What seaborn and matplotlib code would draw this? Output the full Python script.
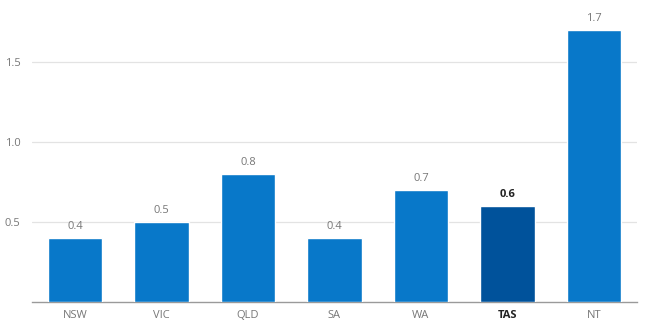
import matplotlib
matplotlib.use("Agg")
import matplotlib.pyplot as plt
import seaborn as sns
import pandas as pd

states = ["NSW", "VIC", "QLD", "SA", "WA", "TAS", "NT"]
values = [0.4, 0.5, 0.8, 0.4, 0.7, 0.6, 1.7]
highlight = "TAS"
y_ticks = [0.5, 1.0, 1.5]
y_tick_labels = ["0.5", "1.0", "1.5"]

base_color = "#0878C9"
highlight_color = "#00529B"
text_grey = "#777777"

sns.set_theme(style="white")
plt.rcParams["font.family"] = ["Open Sans", "DejaVu Sans"]

df = pd.DataFrame({"state": states, "value": values})
palette = {s: (highlight_color if s == highlight else base_color) for s in states}

fig = plt.figure(figsize=(6.5, 3.3), dpi=100)
ax = fig.add_axes([0.049, 0.085, 0.931, 0.885])

sns.barplot(data=df, x="state", y="value", hue="state", palette=palette,
            width=0.63, legend=False, saturation=1, ax=ax, zorder=3)

ax.set_xlim(-0.5, 6.5)
ax.set_ylim(0, 1.825)
ax.set_yticks(y_ticks)
ax.set_yticklabels(y_tick_labels)
ax.grid(axis="y", color="#e3e3e3", linewidth=0.9, zorder=0)
ax.set_axisbelow(True)
for side in ["top", "right", "left"]:
    ax.spines[side].set_visible(False)
ax.spines["bottom"].set_color("#9a9a9a")
ax.spines["bottom"].set_linewidth(1.0)
ax.set_xlabel("")
ax.set_ylabel("")
ax.tick_params(axis="both", length=0, labelsize=8, colors=text_grey)
ax.tick_params(axis="x", pad=6)
ax.tick_params(axis="y", pad=8)

for lbl in ax.get_xticklabels():
    if lbl.get_text() == highlight:
        lbl.set_color("#222222")
        lbl.set_fontweight("bold")

for i, (s, v) in enumerate(zip(states, values)):
    is_hl = s == highlight
    ax.text(i, v + 0.04, f"{v:.1f}", ha="center", va="bottom", fontsize=8,
            color="#222222" if is_hl else text_grey,
            fontweight="bold" if is_hl else "normal")

fig.savefig("out.png", dpi=100, facecolor="white")
